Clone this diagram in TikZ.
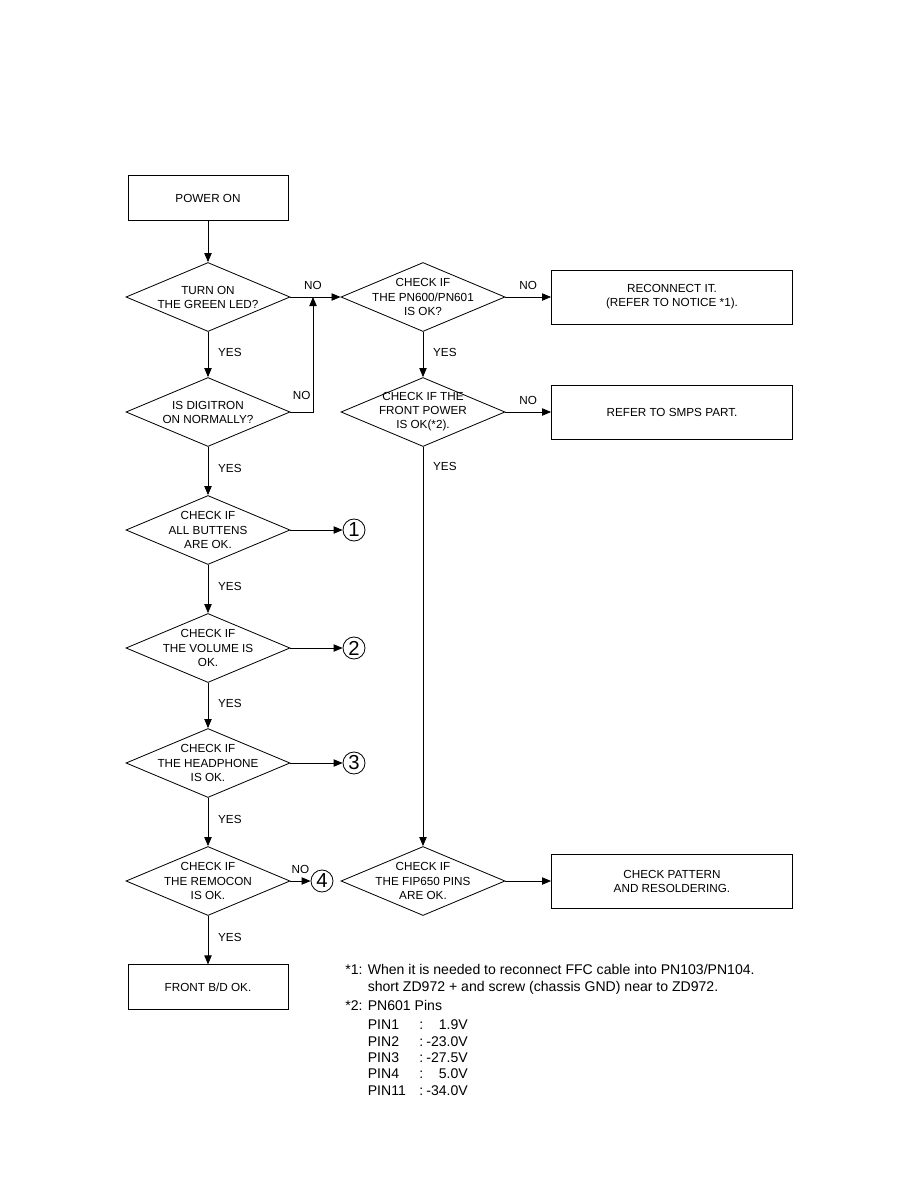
\documentclass[tikz,border=0pt]{standalone}
\usepackage{fontspec}
\setmainfont{Liberation Sans}
\usetikzlibrary{shapes.geometric, arrows.meta, positioning}
\newcommand{\pinrow}[2]{\makebox[1.55cm][l]{#1}\makebox[1.45cm][l]{:\hfill#2}}

\begin{document}
\begin{tikzpicture}[
            x=0.03cm, y=-0.03cm, line width=0.7pt,
            startbox/.style={rectangle, draw, minimum width=4.8cm, minimum height=1.33cm, align=center, font=\normalsize},
            actbox/.style={rectangle, draw, minimum width=7.23cm, minimum height=1.62cm, align=center, font=\normalsize},
            decision/.style={diamond, draw, minimum width=4.92cm, minimum height=2.07cm, inner sep=0pt},
            dtext/.style={align=center, font=\normalsize},
            refcirc/.style={circle, draw, minimum size=0.66cm, inner sep=0pt, font=\LARGE},
            arrow/.style={-{Triangle[length=0.27cm, width=0.22cm]}},
            lbl/.style={font=\normalsize},
            note/.style={anchor=north west, inner sep=0pt, align=left, font=\large}
        ]
            \useasboundingbox (0,0) rectangle (914,1190);

            % Main column
            \node[startbox] (power) at (208,198) {POWER ON};
            \node[decision, label={[dtext]center:TURN ON\\THE GREEN LED?}] (green) at (208,297) {};
            \node[decision, label={[dtext]center:IS DIGITRON\\ON NORMALLY?}] (digi) at (208,412) {};
            \node[decision, label={[dtext]center:CHECK IF\\ALL BUTTENS\\ARE OK.}] (buttons) at (208,530) {};
            \node[decision, label={[dtext]center:CHECK IF\\THE VOLUME IS\\OK.}] (volume) at (208,648) {};
            \node[decision, label={[dtext]center:CHECK IF\\THE HEADPHONE\\IS OK.}] (phone) at (208,763) {};
            \node[decision, label={[dtext]center:CHECK IF\\THE REMOCON\\IS OK.}] (remocon) at (208,881) {};
            \node[startbox] (frontok) at (208,987) {FRONT B/D OK.};

            % References
            \node[refcirc] (ref1) at (354,530) {1};
            \node[refcirc] (ref2) at (354,648) {2};
            \node[refcirc] (ref3) at (354,763) {3};
            \node[refcirc] (ref4) at (322,881) {4};

            % Power column
            \node[decision, label={[dtext]center:CHECK IF\\THE PN600/PN601\\IS OK?}] (pn) at (423,297) {};
            \node[decision, label={[dtext]center:CHECK IF THE\\FRONT POWER\\IS OK(*2).}] (frontpw) at (423,412) {};
            \node[decision, label={[dtext]center:CHECK IF\\THE FIP650 PINS\\ARE OK.}] (fip) at (423,881) {};

            % Actions
            \node[actbox] (reconnect) at (672,297) {RECONNECT IT.\\(REFER TO NOTICE *1).};
            \node[actbox] (smps) at (672,412) {REFER TO SMPS PART.};
            \node[actbox] (pattern) at (672,881) {CHECK PATTERN\\AND RESOLDERING.};

            \coordinate (join) at (313,297);

            % Connections
            \draw[arrow] (power) -- (green);
            \draw[arrow] (green) -- node[lbl, right=5pt, pos=0.45]{YES} (digi);
            \draw[arrow] (digi) -- node[lbl, right=5pt, pos=0.45]{YES} (buttons);
            \draw[arrow] (buttons) -- node[lbl, right=5pt, pos=0.45]{YES} (volume);
            \draw[arrow] (volume) -- node[lbl, right=5pt, pos=0.45]{YES} (phone);
            \draw[arrow] (phone) -- node[lbl, right=5pt, pos=0.45]{YES} (remocon);
            \draw[arrow] (remocon) -- node[lbl, right=5pt, pos=0.45]{YES} (frontok);
            \draw[arrow] (green) -- node[lbl, above=3pt, pos=0.45]{NO} (pn);
            \draw[arrow] (digi.east) -| node[lbl, above=7pt, pos=0.25]{NO} (join);
            \draw[arrow] (buttons) -- (ref1);
            \draw[arrow] (volume) -- (ref2);
            \draw[arrow] (phone) -- (ref3);
            \draw[arrow] (remocon) -- node[lbl, above=3pt]{NO} (ref4);
            \draw[arrow] (pn) -- node[lbl, above=3pt]{NO} (reconnect);
            \draw[arrow] (pn) -- node[lbl, right=5pt, pos=0.45]{YES} (frontpw);
            \draw[arrow] (frontpw) -- node[lbl, above=3pt]{NO} (smps);
            \draw[arrow] (frontpw) -- node[lbl, right=5pt, pos=0.05]{YES} (fip);
            \draw[arrow] (fip) -- (pattern);

            % Notes
            \node[note] (notes) at (345,964) {*1: When it is needed to reconnect FFC cable into PN103/PN104.\\
                \hphantom{*1: }short ZD972 + and screw (chassis GND) near to ZD972.\\[2.5pt]
                *2: PN601 Pins\\[2.5pt]
                \hphantom{*2: }\pinrow{PIN1}{1.9V}\\
                \hphantom{*2: }\pinrow{PIN2}{-23.0V}\\
                \hphantom{*2: }\pinrow{PIN3}{-27.5V}\\
                \hphantom{*2: }\pinrow{PIN4}{5.0V}\\
                \hphantom{*2: }\pinrow{PIN11}{-34.0V}};
        \end{tikzpicture}
\end{document}
